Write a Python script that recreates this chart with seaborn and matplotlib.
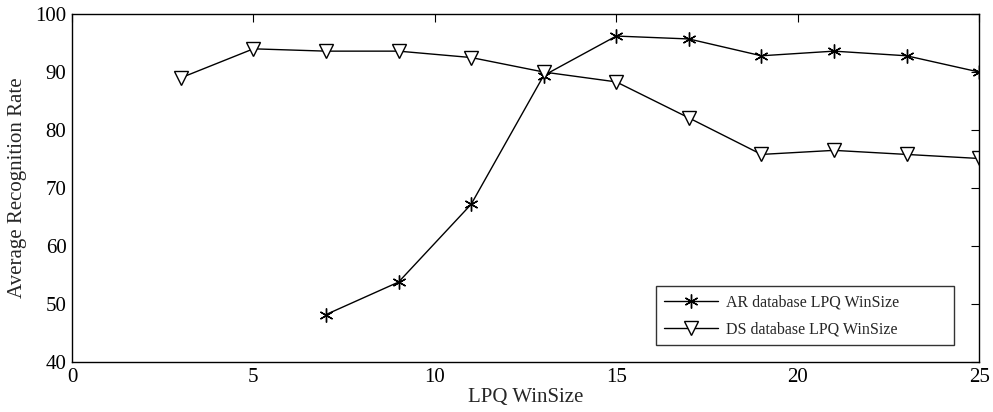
import matplotlib
matplotlib.use("Agg")
import matplotlib.pyplot as plt
import seaborn as sns
import pandas as pd

ar_x = [7, 9, 11, 13, 15, 17, 19, 21, 23, 25]
ar_y = [48.2, 53.8, 67.2, 89.4, 96.2, 95.7, 92.8, 93.6, 92.8, 90.0]
ds_x = [3, 5, 7, 9, 11, 13, 15, 17, 19, 21, 23, 25]
ds_y = [89.0, 94.0, 93.6, 93.6, 92.5, 90.0, 88.3, 82.1, 75.8, 76.5, 75.8, 75.1]
ar_label = "AR database LPQ WinSize"
ds_label = "DS database LPQ WinSize"
x_ticks = [0, 5, 10, 15, 20, 25]
y_ticks = [40, 50, 60, 70, 80, 90, 100]

sns.set_style("white")
plt.rcParams['font.family'] = ['Liberation Serif', 'DejaVu Serif']

fig = plt.figure(figsize=(9.93, 4.12), dpi=100)
ax = fig.add_axes([0.0725, 0.121, 0.9135, 0.845])

ar = pd.DataFrame({"x": ar_x, "y": ar_y})
ds = pd.DataFrame({"x": ds_x, "y": ds_y})

sns.lineplot(data=ar, x="x", y="y", ax=ax, color="black", linewidth=1.0,
             marker=(6, 2, 0), markersize=10, markeredgewidth=1.0,
             markeredgecolor="black", label=ar_label)
sns.lineplot(data=ds, x="x", y="y", ax=ax, color="black", linewidth=1.0,
             marker="v", markersize=9.5, markeredgewidth=1.0,
             markerfacecolor="white", markeredgecolor="black", label=ds_label)

ax.set_xlim(0, 25)
ax.set_ylim(40, 100)
ax.set_xticks(x_ticks)
ax.set_yticks(y_ticks)
ax.tick_params(direction="in", length=6, width=0.8, top=True, right=True,
               labelsize=15, pad=4, colors="black")
for s in ax.spines.values():
    s.set_color("black")
    s.set_linewidth(1.0)
ax.set_xlabel("LPQ WinSize", fontsize=15, labelpad=1)
ax.set_ylabel("Average Recognition Rate", fontsize=15, labelpad=6)

leg = ax.legend(loc="lower left", bbox_to_anchor=(0.644, 0.049, 0.3285, 0.17),
                mode="expand", borderaxespad=0, fontsize=11.5,
                frameon=True, fancybox=False, numpoints=1, handlelength=3.4,
                borderpad=0.5, labelspacing=0.68, handletextpad=0.45)
leg.get_frame().set_edgecolor("black")
leg.get_frame().set_linewidth(1.0)

fig.savefig("out.png", dpi=100)
